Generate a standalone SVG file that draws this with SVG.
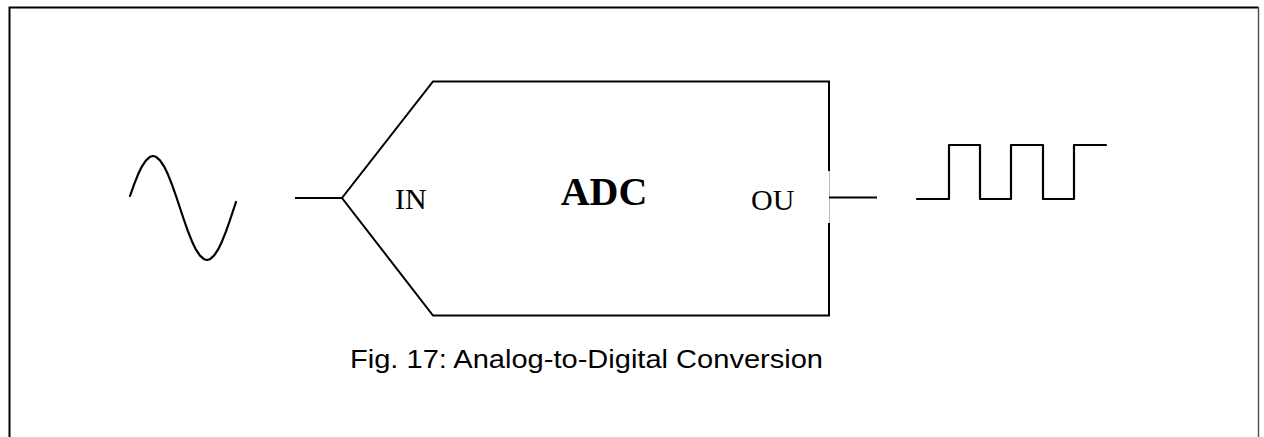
<svg xmlns="http://www.w3.org/2000/svg" width="1264" height="437" viewBox="0 0 1264 437">
<style>
.ln{fill:none;stroke:#000;stroke-width:2;stroke-linejoin:miter}
.wave{fill:none;stroke:#000;stroke-width:2.2;stroke-linejoin:round;stroke-linecap:round}
.tm{font-family:"Liberation Serif","Times New Roman",serif;fill:#000}
.ar{font-family:"Liberation Sans",Arial,sans-serif;fill:#000}
</style>
<rect x="0" y="0" width="1264" height="437" fill="#fff"/>
<g id="frame">
<path d="M9.5,437 V7.5 H1258.5" fill="none" stroke="#000" stroke-width="2"/>
<line x1="1258.5" y1="7" x2="1258.5" y2="437" stroke="#555" stroke-width="1.5"/>
</g>
<g id="analog-signal">
<polyline class="wave" points="130,196 134,184.7 138,174.6 142,166.3 146,160.3 150,156.8 153,156 156,156.8 160,160.3 164,166.3 168,174.6 172,184.7 176,196 180,208 184,220 188,231.3 192,241.4 196,249.7 200,255.7 204,259.2 207,260 210,259.2 214,255.7 218,249.7 222,241.4 226,231.3 230,220 234,208 236,202"/>
</g>
<g id="adc">
<path class="ln" d="M829,171 V81.5 H433 L342,198 L433,315.5 H829 V223"/>
<line x1="829.5" y1="171" x2="829.5" y2="223" stroke="#bbb" stroke-width="1"/>
<text class="tm" x="395" y="209" font-size="30">IN</text>
<text class="tm" x="604" y="205" font-size="40" font-weight="bold" text-anchor="middle">ADC</text>
<text class="tm" x="751" y="210" font-size="30">OU</text>
</g>
<g id="digital-signal">
<polyline class="wave" stroke-linecap="butt" stroke-linejoin="miter" points="917,199 949,199 949,145 980,145 980,199 1011,199 1011,145 1043,145 1043,199 1074,199 1074,145 1106,145"/>
</g>
<g id="connectors">
<line class="ln" x1="295" y1="198" x2="342" y2="198"/>
<line class="ln" x1="829" y1="197.5" x2="877" y2="197.5"/>
</g>
<g id="caption">
<text class="ar" x="350" y="368" font-size="25.5" textLength="473" lengthAdjust="spacingAndGlyphs">Fig. 17: Analog-to-Digital Conversion</text>
</g>
</svg>
